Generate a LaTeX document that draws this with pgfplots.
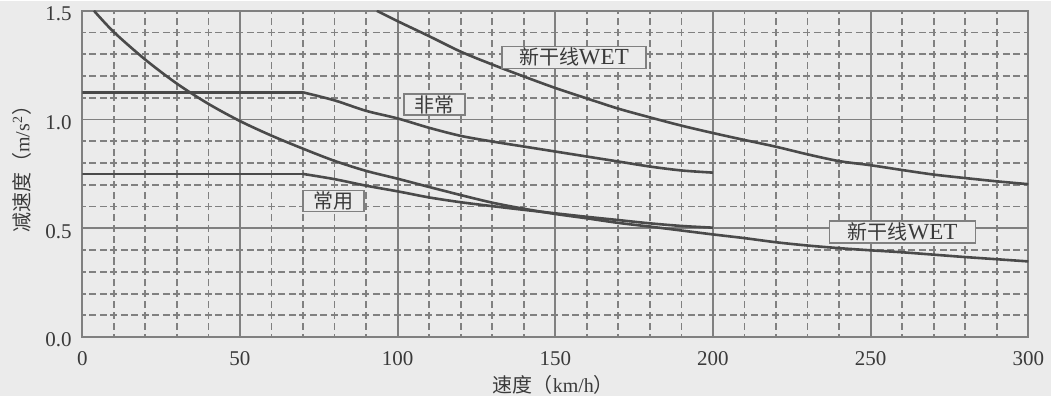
\documentclass[border=0pt]{standalone}
\usepackage{fontspec}
\setmainfont{Liberation Serif}
\newfontfamily\cjk{Noto Sans CJK SC}
\usepackage{pgfplots}
\pgfplotsset{compat=1.18}
\usetikzlibrary{backgrounds}
\definecolor{bgc}{HTML}{EBEBEB}
\definecolor{gridc}{HTML}{808080}
\definecolor{curvec}{HTML}{4A4A4A}
\definecolor{textc}{HTML}{3A3A3A}
\newcommand{\wet}{{\fontsize{11.5}{12}\selectfont WET}}

\begin{document}
\begin{tikzpicture}
\begin{axis}[
  scale only axis, width=473pt, height=163.2pt,
  xmin=0, xmax=300, ymin=0, ymax=1.5,
  xtick={0,50,...,300}, ytick={0,0.5,1.0,1.5},
  minor x tick num=4, minor y tick num=4,
  grid=both,
  major grid style={draw=gridc, line width=0.9pt},
  minor x grid style={draw=gridc, line width=0.9pt, dash pattern=on 3.6pt off 1.84pt, dash phase=1.8pt},
  minor y grid style={draw=gridc, line width=0.9pt, dash pattern=on 3.5pt off 1.75pt, dash phase=1.75pt},
  axis line style={draw=gridc, line width=0.9pt},
  major tick length=0pt, minor tick length=0pt,
  /pgf/number format/assume math mode=true,
  tick label style={font=\fontsize{10.5}{12}\selectfont, text=textc},
  yticklabel style={/pgf/number format/fixed, /pgf/number format/fixed zerofill, /pgf/number format/precision=1, xshift=-1.8pt, yshift=-1.5pt},
  xticklabel style={yshift=-3.7pt},
  xlabel={{\cjk 速度（}km/h{\cjk ）}},
  ylabel={{\cjk 减速度（}m/s\textsuperscript{2}{\cjk ）}},
  label style={font=\fontsize{10}{12}\selectfont, text=textc},
  xlabel style={at={(axis description cs:0.498,-0.145)}, anchor=center},
  ylabel style={at={(axis description cs:-0.064,0.53)}, anchor=center},
]
% 非常 (emergency)
\addplot[curvec, line width=1.3pt] coordinates {(0,1.125) (70,1.125)};
\addplot[curvec, line width=1.3pt, smooth] coordinates {
 (70,1.125) (80,1.088) (90,1.040) (100,1.005) (110,0.962) (120,0.925)
 (130,0.899) (140,0.876) (150,0.853) (160,0.830) (170,0.807) (180,0.784)
 (190,0.766) (200,0.756)};
% 常用 (service)
\addplot[curvec, line width=1.3pt] coordinates {(0,0.75) (70,0.75)};
\addplot[curvec, line width=1.3pt, smooth] coordinates {
 (70,0.75) (80,0.726) (90,0.696) (100,0.670) (110,0.642) (120,0.620)
 (130,0.602) (140,0.585) (150,0.569) (160,0.553) (170,0.538) (180,0.523)
 (190,0.511) (200,0.503)};
% 新干线WET (lower)
\addplot[curvec, line width=1.3pt, smooth] coordinates {
 (3.7,1.5) (10,1.402) (20,1.275) (30,1.165) (40,1.072) (50,0.993) (60,0.926)
 (70,0.866) (80,0.810) (90,0.764) (100,0.728) (110,0.690) (120,0.653)
 (130,0.618) (140,0.590) (150,0.566) (160,0.546) (170,0.525) (180,0.508)
 (190,0.490) (200,0.472) (210,0.455) (220,0.436) (230,0.421) (240,0.409)
 (250,0.399) (260,0.390) (270,0.379) (280,0.368) (290,0.358) (300,0.348)};
% 新干线WET (upper)
\addplot[curvec, line width=1.3pt, smooth] coordinates {
 (93.4,1.5) (100,1.452) (110,1.383) (120,1.312) (130,1.253) (140,1.198)
 (150,1.145) (160,1.097) (170,1.050) (180,1.010) (190,0.972) (200,0.938)
 (210,0.906) (220,0.875) (230,0.840) (240,0.809) (250,0.790) (260,0.768)
 (270,0.747) (280,0.731) (290,0.716) (300,0.703)};
\tikzset{lbl/.style={draw=gridc, fill=bgc, line width=0.8pt, inner sep=0pt, text=textc, font=\fontsize{10}{12}\selectfont}}
\node[lbl, minimum width=72pt, minimum height=11pt] at (axis cs:155.9,1.286) {{\cjk 新干线}\wet};
\node[lbl, minimum width=30.5pt, minimum height=10.5pt] at (axis cs:111.7,1.069) {\cjk 非常};
\node[lbl, minimum width=30.5pt, minimum height=10.5pt] at (axis cs:79.7,0.625) {\cjk 常用};
\node[lbl, minimum width=73pt, minimum height=11pt] at (axis cs:260.1,0.482) {{\cjk 新干线}\wet};
\coordinate (SW) at (rel axis cs:0,0);
\end{axis}
\begin{scope}[on background layer]
\fill[bgc] ([xshift=-41.15pt,yshift=-29.65pt]SW) rectangle ([xshift=484.35pt,yshift=167.85pt]SW);
\end{scope}
\end{tikzpicture}
\end{document}
